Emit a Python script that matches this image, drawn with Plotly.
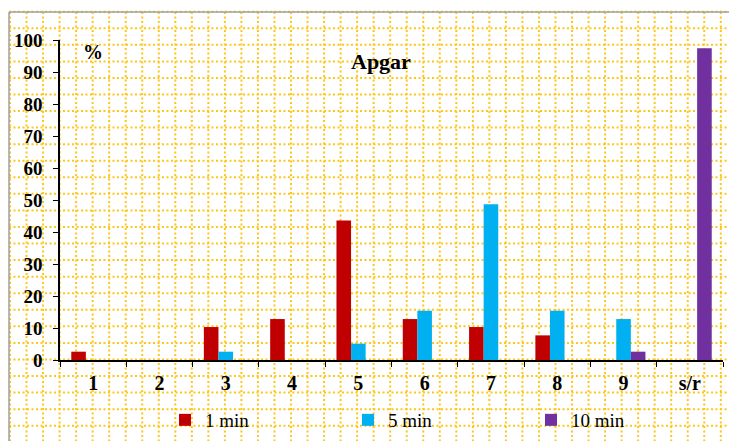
import plotly.graph_objects as go

categories = ["1", "2", "3", "4", "5", "6", "7", "8", "9", "s/r"]
min1 = [2.6, 0, 10.3, 12.8, 43.6, 12.8, 10.3, 7.7, 0, 0]
min5 = [0, 0, 2.6, 0, 5.1, 15.4, 48.7, 15.4, 12.8, 0]
min10 = [0, 0, 0, 0, 0, 0, 0, 0, 2.6, 97.4]
series_names = ["1 min", "5 min", "10 min"]
colors = ["#C00000", "#00B0F0", "#7030A0"]

W, H = 729, 441
ML, MR, MT, MB = 60, 6, 40, 81
PW, PH = W - ML - MR, H - MT - MB


def xp(px):
    return (px - ML) / PW


def yp(py):
    return (H - MB - py) / PH


fig = go.Figure()
for name, vals, col in zip(series_names, [min1, min5, min10], colors):
    fig.add_trace(go.Bar(x=categories, y=vals, name=name, marker_color=col,
                         marker_line_width=0))

font_serif = "Liberation Serif"

shapes = []
grid_col = "#FFC61A"
k = 0
while True:
    px = 10 + k * 16.53
    if px > W + 2:
        break
    shapes.append(dict(type="line", xref="paper", yref="paper", x0=xp(px), x1=xp(px),
                       y0=yp(12), y1=yp(H + 5), layer="below",
                       line=dict(color=grid_col, width=2, dash="2px,2.5px")))
    k += 1
k = 0
while True:
    py = 11.7 + k * 16.56
    if py > H + 2:
        break
    shapes.append(dict(type="line", xref="paper", yref="paper", x0=xp(9), x1=xp(W + 5),
                       y0=yp(py), y1=yp(py), layer="below",
                       line=dict(color=grid_col, width=2, dash="2px,2.5px")))
    k += 1
shapes.append(dict(type="line", xref="paper", yref="paper", x0=xp(9), x1=xp(W + 5),
                   y0=yp(12), y1=yp(12), layer="below", line=dict(color="#A0A0A0", width=1.5)))
shapes.append(dict(type="line", xref="paper", yref="paper", x0=xp(9), x1=xp(9),
                   y0=yp(12), y1=yp(H + 5), layer="below", line=dict(color="#A0A0A0", width=1.5)))

fig.update_layout(
    width=W, height=H,
    margin=dict(l=ML, r=MR, t=MT, b=MB, pad=0, autoexpand=False),
    paper_bgcolor="white", plot_bgcolor="rgba(0,0,0,0)",
    barmode="group", bargap=0.34, bargroupgap=0,
    shapes=shapes,
    showlegend=True,
    legend=dict(orientation="h", xref="container", yref="container",
                x=165 / W, xanchor="left", y=1 - 420 / H, yanchor="middle",
                font=dict(family=font_serif, size=19, color="black"),
                entrywidth=138, entrywidthmode="pixels", bgcolor="rgba(0,0,0,0)",
                itemclick=False),
    annotations=[
        dict(text="<b>Apgar</b>", xref="paper", yref="paper", x=xp(381), y=yp(61),
             yanchor="middle", xanchor="center",
             showarrow=False, font=dict(family=font_serif, size=22, color="black")),
        dict(text="<b>%</b>", xref="paper", yref="paper", x=xp(93), y=yp(52),
             yanchor="middle", xanchor="center",
             showarrow=False, font=dict(family=font_serif, size=20, color="black")),
    ],
)
fig.update_xaxes(showline=True, linecolor="black", linewidth=1.5, ticks="outside",
                 tickson="boundaries", ticklen=5, tickcolor="black", showgrid=False,
                 automargin=False,
                 tickfont=dict(family=font_serif, size=20, color="black"),
                 tickprefix="<b>", ticksuffix="</b>", ticklabelstandoff=4)
fig.update_yaxes(range=[0, 100], dtick=10, showline=True, linecolor="black", linewidth=1.5,
                 ticks="outside", ticklen=5, tickcolor="black", showgrid=False,
                 zeroline=False, automargin=False,
                 tickfont=dict(family=font_serif, size=19, color="black"),
                 tickprefix="<b>", ticksuffix="</b>", ticklabelstandoff=7)

fig.write_html("out.html", config={"displayModeBar": False},
               post_script="document.body.style.margin='0';document.body.style.overflow='hidden';")
